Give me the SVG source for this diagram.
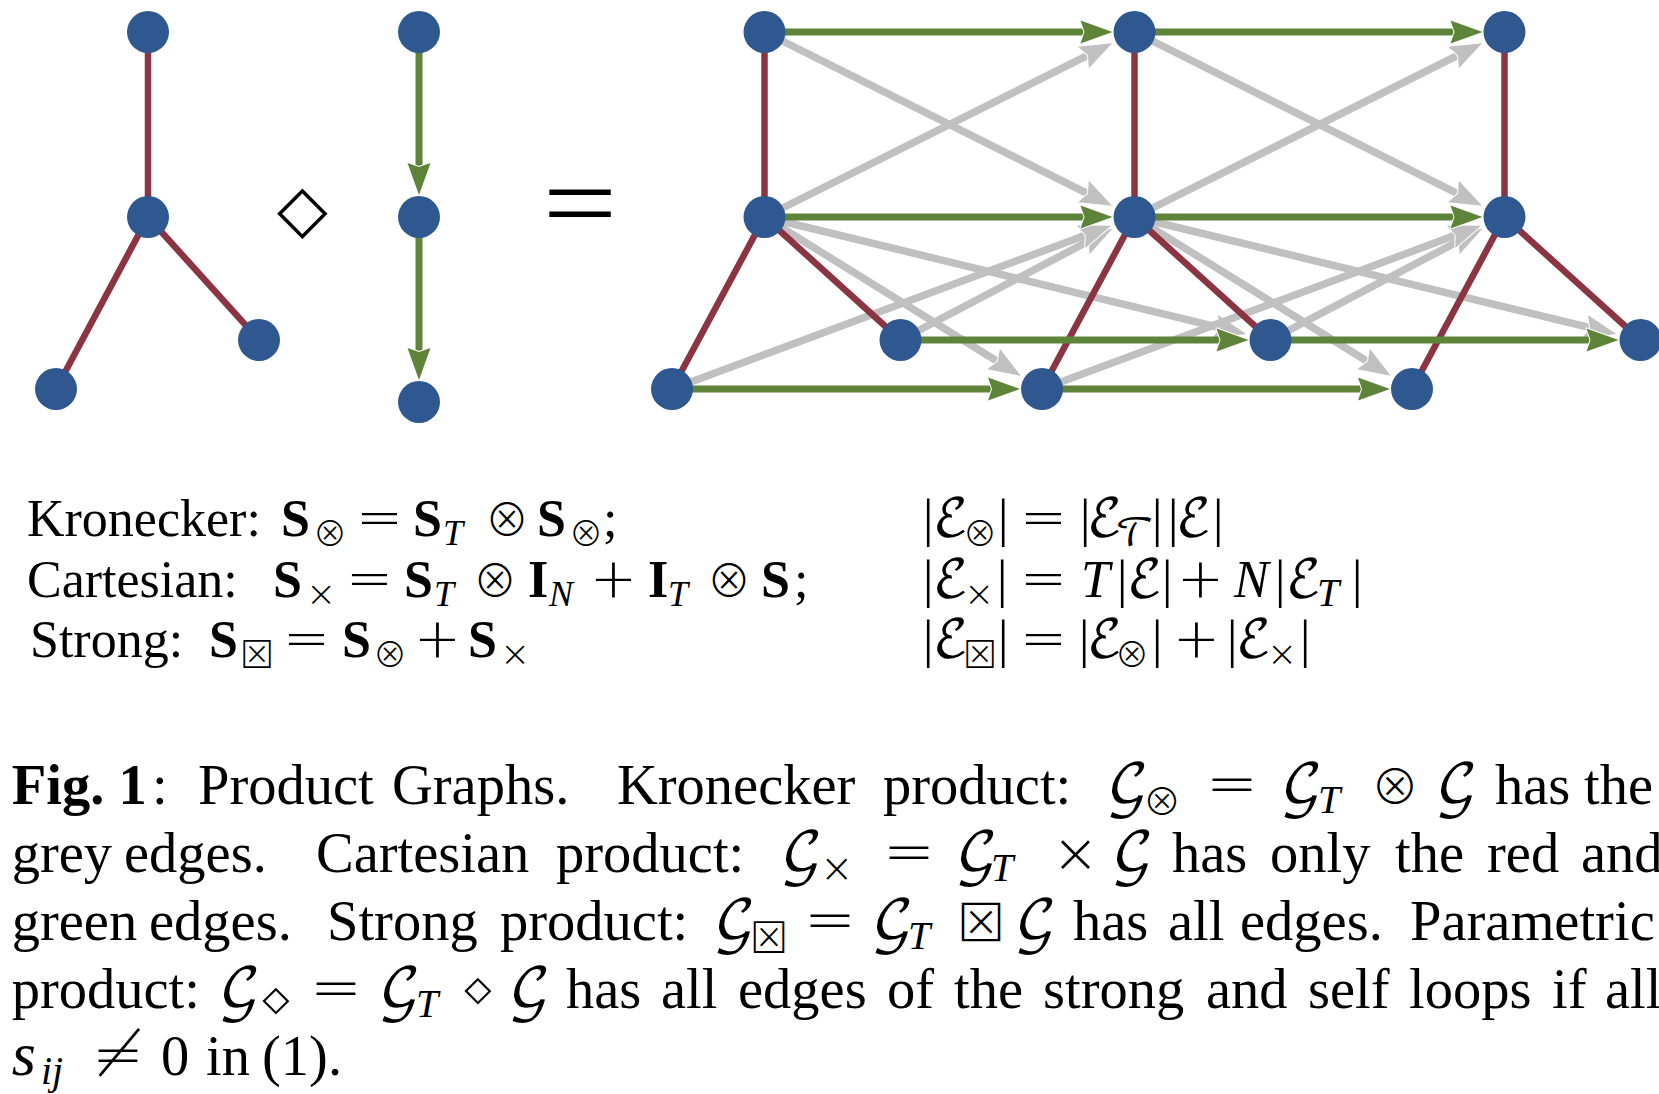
<svg xmlns="http://www.w3.org/2000/svg" width="1659" height="1094" viewBox="0 0 1659 1094">
<style>
.node{fill:#2F5891}
.red{stroke:#8B3442;stroke-width:6.5;fill:none}
.grn{stroke:#5E8439;stroke-width:7;fill:none;marker-end:url(#hg)}
.gry{stroke:#C0C0C0;stroke-width:7.5;fill:none;marker-end:url(#hy)}
text{fill:#000}
.rm{font-family:"Liberation Serif","DejaVu Serif",serif}
.cap{font-size:56.5px}
.eq{font-size:52px}
.b{font-weight:bold}
.i{font-style:italic}
.sy{font-family:"DejaVu Sans",sans-serif;font-weight:200;font-style:normal}
.op{font-family:"Noto Sans CJK JP","DejaVu Sans",sans-serif;font-weight:300;font-style:normal}
.cal{font-family:"DejaVu Math TeX Gyre","Noto Sans Math","STIX Two Math","DejaVu Serif","DejaVu Sans",serif;font-style:normal;font-weight:normal}
</style>
<defs>
<marker id="hg" markerUnits="userSpaceOnUse" refX="8" refY="0" orient="auto" overflow="visible">
<path d="M0,-11.5 L32,0 L0,11.5 L4,0 Z" fill="#5E8439" stroke="#fff" stroke-width="2" paint-order="stroke" stroke-linejoin="round"/>
</marker>
<marker id="hy" markerUnits="userSpaceOnUse" refX="8" refY="0" orient="auto" overflow="visible">
<path d="M0,-12 L32,0 L0,12 L5,0 Z" fill="#C0C0C0" stroke="#fff" stroke-width="2" paint-order="stroke" stroke-linejoin="round"/>
</marker>
</defs>

<g id="connectors">
<line class="red" x1="148" y1="32" x2="148" y2="217"/>
<line class="red" x1="148" y1="217" x2="56" y2="389"/>
<line class="red" x1="148" y1="217" x2="259" y2="340"/>
<line class="grn" x1="419" y1="32" x2="419" y2="171"/>
<line class="grn" x1="419" y1="217" x2="419" y2="356"/>

<line class="gry" x1="764.5" y1="32" x2="1090.67" y2="195.09"/>
<line class="gry" x1="764.5" y1="217" x2="1090.67" y2="53.91"/>
<line class="gry" x1="764.5" y1="217" x2="1222.89" y2="328.43"/>
<line class="gry" x1="900.5" y1="340" x2="1091.13" y2="239.8"/>
<line class="gry" x1="764.5" y1="217" x2="1000.35" y2="363.19"/>
<line class="gry" x1="672" y1="389" x2="1088.57" y2="234.08"/>
<line class="gry" x1="1134.5" y1="32" x2="1460.67" y2="195.09"/>
<line class="gry" x1="1134.5" y1="217" x2="1460.67" y2="53.91"/>
<line class="gry" x1="1134.5" y1="217" x2="1592.89" y2="328.43"/>
<line class="gry" x1="1270.5" y1="340" x2="1461.13" y2="239.8"/>
<line class="gry" x1="1134.5" y1="217" x2="1370.35" y2="363.19"/>
<line class="gry" x1="1042" y1="389" x2="1458.57" y2="234.08"/>

<line class="red" x1="764.5" y1="32" x2="764.5" y2="217"/>
<line class="red" x1="764.5" y1="217" x2="900.5" y2="340"/>
<line class="red" x1="764.5" y1="217" x2="672" y2="389"/>
<line class="red" x1="1134.5" y1="32" x2="1134.5" y2="217"/>
<line class="red" x1="1134.5" y1="217" x2="1270.5" y2="340"/>
<line class="red" x1="1134.5" y1="217" x2="1042" y2="389"/>
<line class="red" x1="1504.5" y1="32" x2="1504.5" y2="217"/>
<line class="red" x1="1504.5" y1="217" x2="1640.5" y2="340"/>
<line class="red" x1="1504.5" y1="217" x2="1412" y2="389"/>

<line class="grn" x1="764.5" y1="32" x2="1088.5" y2="32"/>
<line class="grn" x1="1134.5" y1="32" x2="1458.5" y2="32"/>
<line class="grn" x1="764.5" y1="217" x2="1088.5" y2="217"/>
<line class="grn" x1="1134.5" y1="217" x2="1458.5" y2="217"/>
<line class="grn" x1="900.5" y1="340" x2="1224.5" y2="340"/>
<line class="grn" x1="1270.5" y1="340" x2="1594.5" y2="340"/>
<line class="grn" x1="672" y1="389" x2="996" y2="389"/>
<line class="grn" x1="1042" y1="389" x2="1366" y2="389"/>
</g>

<g id="graph-G">
<circle id="g-top" class="node" cx="148" cy="32" r="21"/>
<circle id="g-mid" class="node" cx="148" cy="217" r="21"/>
<circle id="g-bl" class="node" cx="56" cy="389" r="21"/>
<circle id="g-br" class="node" cx="259" cy="340" r="21"/>
</g>
<g id="graph-T">
<circle id="t-1" class="node" cx="419" cy="32" r="21"/>
<circle id="t-2" class="node" cx="419" cy="217" r="21"/>
<circle id="t-3" class="node" cx="419" cy="402" r="21"/>
</g>
<g id="operators">
<text x="302.4" y="231" font-size="66" text-anchor="middle" style="font-family:'DejaVu Sans',sans-serif">◇</text>
<text class="rm" x="0" y="0" font-size="110" text-anchor="middle" transform="translate(580,240) scale(1.2,1)">=</text>
</g>
<g id="product">
<circle id="p-t0" class="node" cx="764.5" cy="32" r="21"/>
<circle id="p-t1" class="node" cx="1134.5" cy="32" r="21"/>
<circle id="p-t2" class="node" cx="1504.5" cy="32" r="21"/>
<circle id="p-m0" class="node" cx="764.5" cy="217" r="21"/>
<circle id="p-m1" class="node" cx="1134.5" cy="217" r="21"/>
<circle id="p-m2" class="node" cx="1504.5" cy="217" r="21"/>
<circle id="p-a0" class="node" cx="900.5" cy="340" r="21"/>
<circle id="p-a1" class="node" cx="1270.5" cy="340" r="21"/>
<circle id="p-a2" class="node" cx="1640.5" cy="340" r="21"/>
<circle id="p-b0" class="node" cx="672" cy="389" r="21"/>
<circle id="p-b1" class="node" cx="1042" cy="389" r="21"/>
<circle id="p-b2" class="node" cx="1412" cy="389" r="21"/>
</g>

<g id="equations" class="rm eq">
<text y="536"><tspan x="27">Kronecker:</tspan><tspan class="b" x="281">S</tspan><tspan class="op" x="313" y="546" font-size="34">⊗</tspan><tspan class="sy" x="356" y="536" font-size="56">=</tspan><tspan class="b" x="413">S</tspan><tspan class="i" x="443" y="545" font-size="36">T</tspan><tspan class="op" x="485" y="536" font-size="44">⊗</tspan><tspan class="b" x="537">S</tspan><tspan class="op" x="569" y="546" font-size="34">⊗</tspan><tspan x="603" y="536">;</tspan></text>
<text y="597"><tspan x="27">Cartesian:</tspan><tspan class="b" x="273">S</tspan><tspan class="sy" x="306" y="606" font-size="36">×</tspan><tspan class="sy" x="346" y="597" font-size="56">=</tspan><tspan class="b" x="404">S</tspan><tspan class="i" x="434" y="606" font-size="36">T</tspan><tspan class="op" x="473" y="597" font-size="44">⊗</tspan><tspan class="b" x="528">I</tspan><tspan class="i" x="549" y="606" font-size="36">N</tspan><tspan class="sy" x="590" y="597" font-size="56">+</tspan><tspan class="b" x="648">I</tspan><tspan class="i" x="668" y="606" font-size="36">T</tspan><tspan class="op" x="707" y="597" font-size="44">⊗</tspan><tspan class="b" x="761">S</tspan><tspan x="794">;</tspan></text>
<text y="657"><tspan x="30">Strong:</tspan><tspan class="b" x="209">S</tspan><tspan class="op" x="240" y="667" font-size="34">⊠</tspan><tspan class="sy" x="283" y="657" font-size="56">=</tspan><tspan class="b" x="342">S</tspan><tspan class="op" x="373" y="667" font-size="34">⊗</tspan><tspan class="sy" x="414" y="657" font-size="56">+</tspan><tspan class="b" x="468">S</tspan><tspan class="sy" x="500" y="666" font-size="36">×</tspan></text>

<text y="536"><tspan x="923">|</tspan><tspan class="cal" x="933">ℰ</tspan><tspan class="op" x="963" y="546" font-size="34">⊗</tspan><tspan x="998" y="536">|</tspan><tspan class="sy" x="1020" font-size="56">=</tspan><tspan x="1080">|</tspan><tspan class="cal" x="1087">ℰ</tspan><tspan class="cal" x="1115" y="545" font-size="38">𝒯</tspan><tspan x="1152" y="536">|</tspan><tspan x="1168">|</tspan><tspan class="cal" x="1176">ℰ</tspan><tspan x="1213">|</tspan></text>
<text y="597"><tspan x="923">|</tspan><tspan class="cal" x="933">ℰ</tspan><tspan class="sy" x="964" y="606" font-size="36">×</tspan><tspan x="997" y="597">|</tspan><tspan class="sy" x="1020" font-size="56">=</tspan><tspan class="i" x="1081">T</tspan><tspan x="1117">|</tspan><tspan class="cal" x="1127">ℰ</tspan><tspan x="1162">|</tspan><tspan class="sy" x="1177" font-size="56">+</tspan><tspan class="i" x="1234">N</tspan><tspan x="1275">|</tspan><tspan class="cal" x="1286">ℰ</tspan><tspan class="i" x="1317" y="606" font-size="40">T</tspan><tspan x="1352" y="597">|</tspan></text>
<text y="657"><tspan x="923">|</tspan><tspan class="cal" x="933">ℰ</tspan><tspan class="op" x="963" y="667" font-size="34">⊠</tspan><tspan x="998" y="657">|</tspan><tspan class="sy" x="1020" font-size="56">=</tspan><tspan x="1079">|</tspan><tspan class="cal" x="1087">ℰ</tspan><tspan class="op" x="1115" y="667" font-size="34">⊗</tspan><tspan x="1152" y="657">|</tspan><tspan class="sy" x="1173" font-size="56">+</tspan><tspan x="1227">|</tspan><tspan class="cal" x="1236">ℰ</tspan><tspan class="sy" x="1267" y="666" font-size="36">×</tspan><tspan x="1300" y="657">|</tspan></text>
</g>

<g id="caption" class="rm cap">
<text y="804"><tspan class="b" x="11.7">Fig. 1</tspan><tspan x="152">:</tspan><tspan x="198">Product</tspan><tspan x="392">Graphs.</tspan><tspan x="617">Kronecker</tspan><tspan x="883">product:</tspan><tspan class="cal" x="1106">𝒢</tspan><tspan class="op" x="1143" y="815" font-size="38">⊗</tspan><tspan class="sy" x="1206" y="804" font-size="62">=</tspan><tspan class="cal" x="1280">𝒢</tspan><tspan class="i" x="1318" y="813" font-size="40">T</tspan><tspan class="op" x="1371" y="804" font-size="48">⊗</tspan><tspan class="cal" x="1435">𝒢</tspan><tspan x="1495">has</tspan><tspan x="1584">the</tspan></text>
<text y="872"><tspan x="11.7">grey</tspan><tspan x="124">edges.</tspan><tspan x="316">Cartesian</tspan><tspan x="556">product:</tspan><tspan class="cal" x="780">𝒢</tspan><tspan class="sy" x="820" y="882" font-size="40">×</tspan><tspan class="sy" x="883" y="872" font-size="62">=</tspan><tspan class="cal" x="955">𝒢</tspan><tspan class="i" x="991" y="881" font-size="40">T</tspan><tspan class="sy" x="1052" y="872" font-size="56">×</tspan><tspan class="cal" x="1111">𝒢</tspan><tspan x="1172">has</tspan><tspan x="1270">only</tspan><tspan x="1395">the</tspan><tspan x="1487">red</tspan><tspan x="1581">and</tspan></text>
<text y="940"><tspan x="11.7">green</tspan><tspan x="149">edges.</tspan><tspan x="327">Strong</tspan><tspan x="500">product:</tspan><tspan class="cal" x="713">𝒢</tspan><tspan class="op" x="750" y="951" font-size="38">⊠</tspan><tspan class="sy" x="804" y="940" font-size="62">=</tspan><tspan class="cal" x="871">𝒢</tspan><tspan class="i" x="908" y="949" font-size="40">T</tspan><tspan class="op" x="957" y="940" font-size="48">⊠</tspan><tspan class="cal" x="1014">𝒢</tspan><tspan x="1073">has</tspan><tspan x="1168">all</tspan><tspan x="1240">edges.</tspan><tspan x="1410">Parametric</tspan></text>
<text y="1008"><tspan x="11.7">product:</tspan><tspan class="cal" x="218">𝒢</tspan><tspan class="op" x="259" y="1018" font-size="54">⋄</tspan><tspan class="sy" x="310" y="1008" font-size="62">=</tspan><tspan class="cal" x="378">𝒢</tspan><tspan class="i" x="416" y="1017" font-size="40">T</tspan><tspan class="op" x="461" y="1008" font-size="54">⋄</tspan><tspan class="cal" x="508">𝒢</tspan><tspan x="566">has</tspan><tspan x="661">all</tspan><tspan x="738">edges</tspan><tspan x="887">of</tspan><tspan x="954">the</tspan><tspan x="1043">strong</tspan><tspan x="1206">and</tspan><tspan x="1308">self</tspan><tspan x="1409">loops</tspan><tspan x="1552">if</tspan><tspan x="1605">all</tspan></text>
<text y="1075"><tspan class="i" x="11.7" font-size="62">s</tspan><tspan class="i" x="41" y="1084" font-size="40">ij</tspan><tspan class="sy" x="92" y="1075" font-size="62">≠</tspan><tspan x="161">0</tspan><tspan x="206">in</tspan><tspan x="262">(1).</tspan></text>
</g>
</svg>
